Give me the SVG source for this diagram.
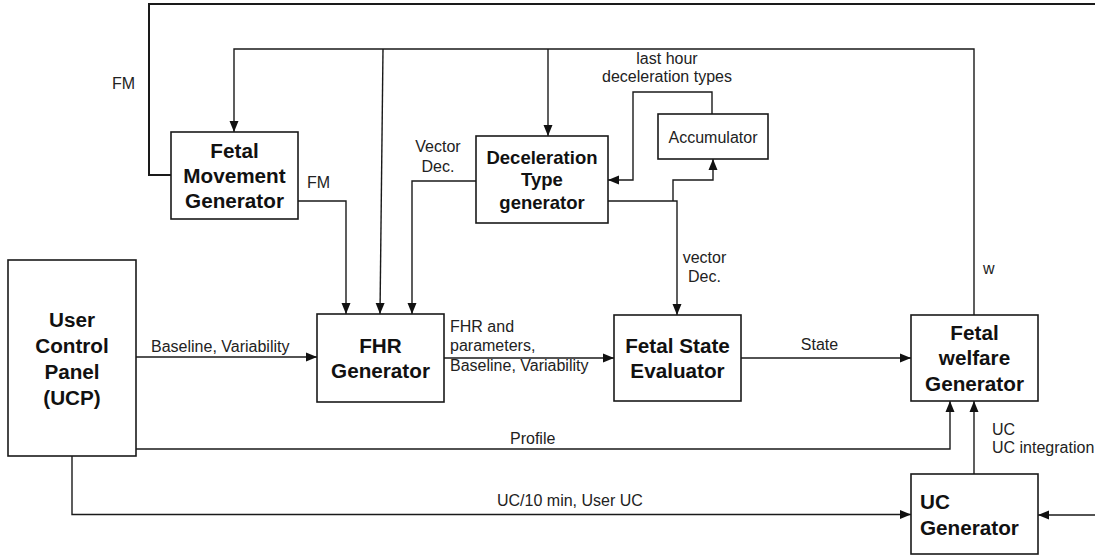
<svg xmlns="http://www.w3.org/2000/svg" width="1095" height="556" viewBox="0 0 1095 556">
<style>
.box{fill:#fff;stroke:#1a1a1a;stroke-width:1.6}
.ln{fill:none;stroke:#1a1a1a;stroke-width:1.4}
.thick{stroke-width:2}
.t{font-family:"Liberation Sans",Arial,sans-serif;font-weight:bold;font-size:20.7px;fill:#111;text-anchor:middle}
.td{font-size:18.5px}
.l{font-family:"Liberation Sans",Arial,sans-serif;font-size:16px;fill:#222}
.c{text-anchor:middle}
</style>
<defs>
<marker id="ar" markerUnits="userSpaceOnUse" markerWidth="11" markerHeight="10" viewBox="0 0 11 10" refX="11" refY="5" orient="auto">
<path d="M0,0.5 L11,5 L0,9.5 Z" fill="#111"/>
</marker>
</defs>
<rect width="1095" height="556" fill="#fff"/>
<g id="connectors">
<path class="ln thick" d="M171,175 H149 V4 H1095"/>
<path class="ln" d="M1095,515 H1038" marker-end="url(#ar)"/>
<path class="ln" d="M974,315 V49 H234 V132" marker-end="url(#ar)"/>
<path class="ln" d="M383,49 L380,314" marker-end="url(#ar)"/>
<path class="ln" d="M548,49 V136" marker-end="url(#ar)"/>
<path class="ln" d="M298,201 H346 V314" marker-end="url(#ar)"/>
<path class="ln" d="M476,181 H412 V314" marker-end="url(#ar)"/>
<path class="ln" d="M608,201 H677 V315" marker-end="url(#ar)"/>
<path class="ln" d="M673,201 V180 H713 V159" marker-end="url(#ar)"/>
<path class="ln" d="M712,114 V92 H633 V180 H608" marker-end="url(#ar)"/>
<path class="ln" d="M136,357 H317" marker-end="url(#ar)"/>
<path class="ln" d="M444,358 H614" marker-end="url(#ar)"/>
<path class="ln" d="M741,358 H911" marker-end="url(#ar)"/>
<path class="ln" d="M136,449 H950 V401" marker-end="url(#ar)"/>
<path class="ln" d="M72,456 V514.5 H911" marker-end="url(#ar)"/>
<path class="ln" d="M974,474 V401" marker-end="url(#ar)"/>
</g>
<g id="labels">
<text class="l" x="112" y="89">FM</text>
<text class="l" x="307" y="188">FM</text>
<text class="l c" x="438" y="152">Vector</text>
<text class="l c" x="438" y="172">Dec.</text>
<text class="l c" x="667" y="64">last hour</text>
<text class="l c" x="667" y="82">deceleration types</text>
<text class="l c" x="704.5" y="263">vector</text>
<text class="l c" x="704.5" y="282">Dec.</text>
<text class="l" x="983" y="274">w</text>
<text class="l" x="151" y="352">Baseline, Variability</text>
<text class="l" x="450" y="332">FHR and</text>
<text class="l" x="450" y="351">parameters,</text>
<text class="l" x="450" y="371">Baseline, Variability</text>
<text class="l c" x="819.5" y="350">State</text>
<text class="l" x="510" y="444">Profile</text>
<text class="l" x="497" y="506">UC/10 min, User UC</text>
<text class="l" x="992" y="435">UC</text>
<text class="l" x="992" y="453">UC integration</text>
</g>
<g id="fmg">
<rect class="box" x="171" y="132" width="127" height="87"/>
<text class="t" x="234.5" y="157.5">Fetal</text>
<text class="t" x="234.5" y="183">Movement</text>
<text class="t" x="234.5" y="207.5">Generator</text>
</g>
<g id="decel">
<rect class="box" x="476" y="136" width="132" height="87"/>
<text class="t td" x="542" y="163.5">Deceleration</text>
<text class="t td" x="542" y="186">Type</text>
<text class="t td" x="542" y="208.5">generator</text>
</g>
<g id="accumulator">
<rect class="box" x="658" y="114" width="110" height="45"/>
<text class="l c" x="713" y="143">Accumulator</text>
</g>
<g id="ucp">
<rect class="box" x="8" y="260" width="128" height="196"/>
<text class="t" x="72" y="327">User</text>
<text class="t" x="72" y="353">Control</text>
<text class="t" x="72" y="379">Panel</text>
<text class="t" x="72" y="405">(UCP)</text>
</g>
<g id="fhr">
<rect class="box" x="317" y="314" width="127" height="88"/>
<text class="t" x="380.5" y="353">FHR</text>
<text class="t" x="380.5" y="378">Generator</text>
</g>
<g id="fse">
<rect class="box" x="614" y="315" width="127" height="86"/>
<text class="t" x="677.5" y="353">Fetal State</text>
<text class="t" x="677.5" y="378">Evaluator</text>
</g>
<g id="fwg">
<rect class="box" x="911" y="315" width="127" height="86"/>
<text class="t" x="974.5" y="340">Fetal</text>
<text class="t" x="974.5" y="365">welfare</text>
<text class="t" x="974.5" y="390.5">Generator</text>
</g>
<g id="ucg">
<rect class="box" x="911" y="474" width="127" height="80"/>
<text class="t" x="920" y="509" style="text-anchor:start">UC</text>
<text class="t" x="920" y="534.5" style="text-anchor:start">Generator</text>
</g>
</svg>
